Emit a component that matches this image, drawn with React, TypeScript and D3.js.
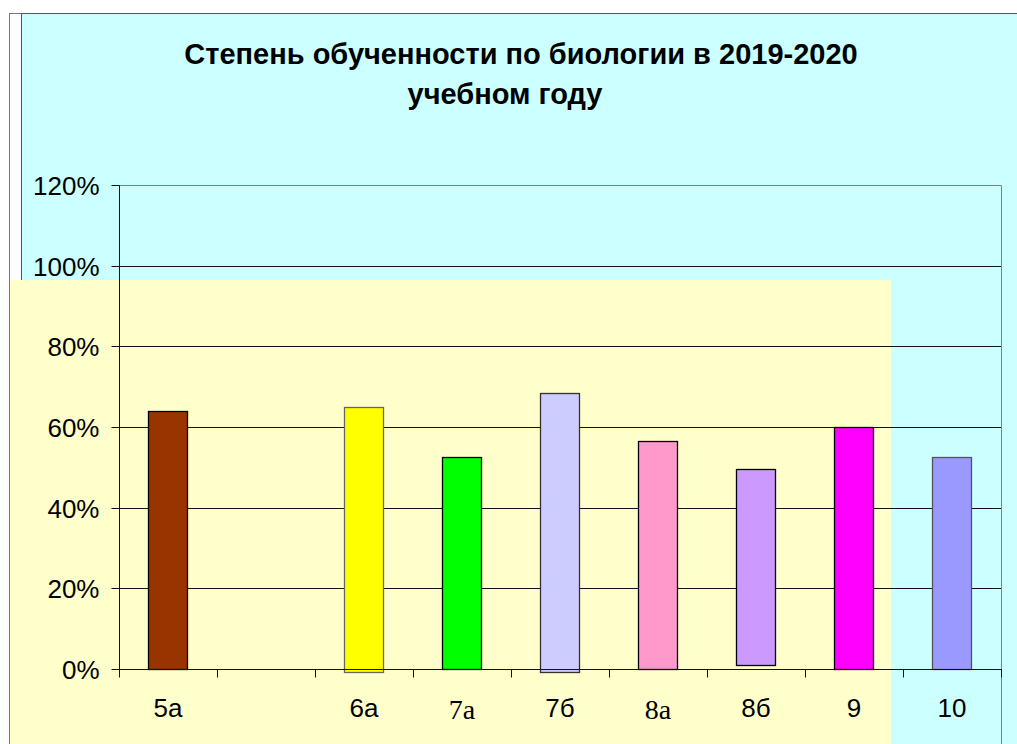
import React, { useEffect, useRef } from "react";
import * as d3 from "d3";

// классы и степень обученности (доли)
const categories = ["5а", "", "6а", "7а", "7б", "8а", "8б", "9", "10"];
const values = [0.64, null, 0.65, 0.525, 0.685, 0.565, 0.495, 0.6, 0.525];
const bases = [0, null, -0.008, 0, -0.008, 0, 0.009, 0, 0];
const barColors = ["#993300", "none", "#FFFF00", "#00FF00", "#CCCCFF", "#FF99CC", "#CC99FF", "#FF00FF", "#9999FF"];
const barStrokes = ["#000", "none", "#666", "#000", "#333", "#000", "#000", "#000", "#555"];
const serifLabels = ["7а", "8а"];
const yTicks = [0, 0.2, 0.4, 0.6, 0.8, 1.0, 1.2];
const titleLines = ["Степень обученности по биологии в 2019-2020", "учебном году"];

const W = 1017;
const H = 744;

const App = () => {
  const svgRef = useRef(null);

  useEffect(() => {
    const svg = d3.select(svgRef.current);
    svg.selectAll("*").remove();

    const plot = { left: 119, right: 1001, top: 185, bottom: 669 };

    // фоны
    svg.append("rect").attr("x", 9.5).attr("y", 13.5).attr("width", W).attr("height", H)
      .attr("fill", "#fff").attr("stroke", "#777");
    svg.append("rect").attr("x", 21.5).attr("y", 13.5).attr("width", W).attr("height", H)
      .attr("fill", "#CCFFFF").attr("stroke", "#555");
    svg.append("rect").attr("x", 9).attr("y", 280).attr("width", 882).attr("height", H - 280)
      .attr("fill", "#FFFFCC");
    svg.append("line").attr("x1", 9.5).attr("x2", 9.5).attr("y1", 280).attr("y2", H)
      .attr("stroke", "#777");

    const x = d3.scaleBand().domain(categories.map((c, i) => i)).range([plot.left, plot.right]);
    const y = d3.scaleLinear().domain([0, 1.2]).range([plot.bottom, plot.top]);

    // сетка
    svg.selectAll(".grid")
      .data(yTicks.filter((t) => t > 0 && t < 1.2))
      .enter()
      .append("line")
      .attr("x1", plot.left).attr("x2", plot.right)
      .attr("y1", (d) => Math.round(y(d)) + 0.5).attr("y2", (d) => Math.round(y(d)) + 0.5)
      .attr("stroke", "#111");

    // рамка области построения
    svg.append("line").attr("x1", plot.left).attr("x2", plot.right + 0.5)
      .attr("y1", Math.round(y(1.2)) + 0.5).attr("y2", Math.round(y(1.2)) + 0.5).attr("stroke", "#808080");
    svg.append("line").attr("x1", plot.right + 0.5).attr("x2", plot.right + 0.5)
      .attr("y1", Math.round(y(1.2)) + 0.5).attr("y2", H).attr("stroke", "#808080");

    // столбцы
    const bw = x.bandwidth() / 2.5;
    svg.selectAll(".bar")
      .data(values.map((v, i) => ({ v, b: bases[i], i })).filter((d) => d.v !== null))
      .enter()
      .append("rect")
      .attr("x", (d) => Math.round(x(d.i) + x.bandwidth() / 2 - bw / 2) + 0.5)
      .attr("y", (d) => Math.round(y(d.v)) + 0.5)
      .attr("width", Math.round(bw))
      .attr("height", (d) => Math.round(y(d.b)) - Math.round(y(d.v)))
      .attr("fill", (d) => barColors[d.i])
      .attr("stroke", (d) => barStrokes[d.i])
      .attr("stroke-width", 1.3);

    // ось Y
    const yAxis = svg.append("g").attr("transform", `translate(${plot.left + 0.5},0.5)`);
    yAxis.append("line").attr("y1", Math.round(y(1.2))).attr("y2", Math.round(y(0))).attr("stroke", "#111");
    yTicks.forEach((t) => {
      const yy = Math.round(y(t));
      yAxis.append("line").attr("x1", -8).attr("x2", 0).attr("y1", yy).attr("y2", yy).attr("stroke", "#111");
      yAxis.append("text")
        .attr("x", -20).attr("y", yy + 9)
        .attr("text-anchor", "end")
        .attr("font-family", "Liberation Sans, Arial, sans-serif")
        .attr("font-size", 26)
        .attr("fill", "#000")
        .text(d3.format(".0%")(t));
    });

    // ось X
    const y0 = Math.round(y(0)) + 0.5;
    svg.append("line").attr("x1", plot.left).attr("x2", plot.right + 1).attr("y1", y0).attr("y2", y0).attr("stroke", "#111");
    const tickXs = categories.map((c, i) => x(i)).concat([plot.right]);
    svg.selectAll(".xtick")
      .data(tickXs)
      .enter()
      .append("line")
      .attr("x1", (d) => Math.round(d) + 0.5).attr("x2", (d) => Math.round(d) + 0.5)
      .attr("y1", y0).attr("y2", y0 + 8)
      .attr("stroke", "#111");

    svg.selectAll(".xlabel")
      .data(categories.map((c, i) => ({ c, i })))
      .enter()
      .append("text")
      .attr("x", (d) => x(d.i) + x.bandwidth() / 2)
      .attr("y", (d) => (serifLabels.includes(d.c) ? 719 : 717))
      .attr("text-anchor", "middle")
      .attr("font-family", (d) => serifLabels.includes(d.c) ? "Liberation Serif, Times New Roman, serif" : "Liberation Sans, Arial, sans-serif")
      .attr("font-size", (d) => serifLabels.includes(d.c) ? 28 : 26)
      .attr("fill", "#000")
      .text((d) => d.c);

    // заголовок
    svg.append("text")
      .attr("x", 521).attr("y", 64)
      .attr("text-anchor", "middle")
      .attr("font-family", "Liberation Sans, Arial, sans-serif")
      .attr("font-weight", "bold")
      .attr("font-size", 29)
      .text(titleLines[0]);
    svg.append("text")
      .attr("x", 505).attr("y", 104)
      .attr("text-anchor", "middle")
      .attr("font-family", "Liberation Sans, Arial, sans-serif")
      .attr("font-weight", "bold")
      .attr("font-size", 29)
      .text(titleLines[1]);
  }, []);

  return (
    <svg
      ref={svgRef}
      width={W}
      height={H}
      style={{ position: "absolute", left: 0, top: 0, display: "block" }}
    ></svg>
  );
};

export default App;
